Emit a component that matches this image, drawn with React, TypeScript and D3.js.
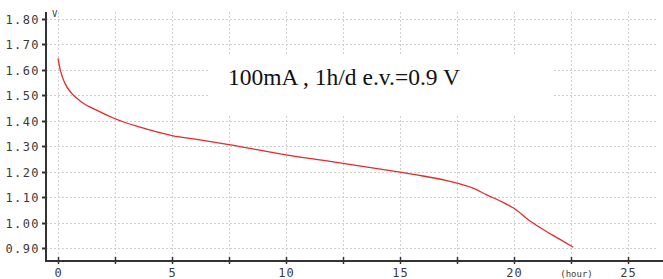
import React, { useEffect, useRef } from 'react';
import * as d3 from 'd3';

// discharge curve
const hours = [0, 0.1, 0.3, 0.6, 1.0, 1.8, 2.5, 3.6, 5.0, 6.2, 7.5, 10, 12.5, 15, 16, 17, 17.5, 18.2, 18.8, 19.5, 20, 20.7, 21.4, 22.0, 22.6];
const volts = [1.645, 1.6, 1.548, 1.508, 1.476, 1.437, 1.408, 1.375, 1.342, 1.325, 1.306, 1.266, 1.233, 1.198, 1.183, 1.166, 1.155, 1.135, 1.109, 1.08, 1.056, 1.006, 0.966, 0.935, 0.903];

const yTicks = [0.9, 1.0, 1.1, 1.2, 1.3, 1.4, 1.5, 1.6, 1.7, 1.8];
const xTicks = [0, 2.5, 5, 7.5, 10, 12.5, 15, 17.5, 20, 22.5, 25];
const xLabels = ['0', '', '5', '', '10', '', '15', '', '20', '(hour)', '25'];
const title = '100mA , 1h/d e.v.=0.9 V';

const W = 663;
const H = 279;

const DischargeChart = () => {
  const ref = useRef(null);

  useEffect(() => {
    draw();
  }, []);

  const draw = () => {
    const svg = d3.select(ref.current);
    svg.selectAll('*').remove();

    const x = d3.scaleLinear().domain([0, 25]).range([58, 628]);
    const y = d3.scaleLinear().domain([0.9, 1.8]).range([248, 19]);
    const axisX = 46;
    const axisY = 261;
    const top = 12;
    const right = 656;

    svg.append('rect').attr('width', W).attr('height', H).attr('fill', '#fff');

    // grid
    const grid = svg.append('g').attr('stroke', '#cfcfcf').attr('stroke-width', 1).attr('stroke-dasharray', '2,2');
    yTicks.forEach(t => {
      grid.append('line')
        .attr('x1', axisX).attr('x2', right)
        .attr('y1', Math.round(y(t)) + 0.5).attr('y2', Math.round(y(t)) + 0.5);
    });
    xTicks.forEach(t => {
      grid.append('line')
        .attr('x1', Math.round(x(t)) + 0.5).attr('x2', Math.round(x(t)) + 0.5)
        .attr('y1', top).attr('y2', axisY);
    });

    // white box behind the annotation
    svg.append('rect')
      .attr('x', 210).attr('y', 55).attr('width', 343).attr('height', 60)
      .attr('fill', '#fff');

    svg.append('text')
      .attr('x', 228).attr('y', 85)
      .attr('font-family', '"Liberation Serif", "Times New Roman", serif')
      .attr('font-size', 23.5)
      .attr('fill', '#111')
      .text(title);

    // curve
    const line = d3.line<number>()
      .x((d, i) => x(hours[i]))
      .y(d => y(d))
      .curve(d3.curveMonotoneX);
    svg.append('path')
      .datum(volts)
      .attr('d', line)
      .attr('fill', 'none')
      .attr('stroke', '#e52a2a')
      .attr('stroke-width', 1.3);

    // axes
    svg.append('line')
      .attr('x1', axisX).attr('x2', axisX).attr('y1', top).attr('y2', axisY + 1)
      .attr('stroke', '#333').attr('stroke-width', 2);
    svg.append('line')
      .attr('x1', axisX - 1).attr('x2', W).attr('y1', axisY).attr('y2', axisY)
      .attr('stroke', '#333').attr('stroke-width', 2);

    const labelFont = '"DejaVu Sans Mono", "Liberation Mono", monospace';

    yTicks.forEach(t => {
      const py = Math.round(y(t)) + 0.5;
      svg.append('line')
        .attr('x1', axisX - 4).attr('x2', axisX).attr('y1', py).attr('y2', py)
        .attr('stroke', '#333').attr('stroke-width', 2);
      svg.append('text')
        .attr('x', 40).attr('y', py + 4)
        .attr('text-anchor', 'end')
        .attr('font-family', labelFont)
        .attr('font-size', 12)
        .attr('letter-spacing', 1.4)
        .attr('fill', '#3a3a3a')
        .text(d3.format('.2f')(t));
    });

    xTicks.forEach((t, i) => {
      const px = Math.round(x(t)) + 0.5;
      svg.append('line')
        .attr('x1', px).attr('x2', px).attr('y1', axisY - 4).attr('y2', axisY + 3)
        .attr('stroke', '#333').attr('stroke-width', 1.5);
      if (xLabels[i]) {
        svg.append('text')
          .attr('x', px + (xLabels[i] === '(hour)' ? 5 : 0)).attr('y', 277)
          .attr('text-anchor', 'middle')
          .attr('font-family', labelFont)
          .attr('font-size', xLabels[i] === '(hour)' ? 9 : 12)
          .attr('letter-spacing', xLabels[i] === '(hour)' ? 0 : 1)
          .attr('fill', '#3a3a3a')
          .text(xLabels[i]);
      }
    });

    svg.append('text')
      .attr('x', 52).attr('y', 17)
      .attr('font-family', labelFont)
      .attr('font-size', 9)
      .attr('fill', '#444')
      .text('V');
  };

  return <svg ref={ref} width={W} height={H} style={{ position: 'absolute', left: 0, top: 0 }}></svg>;
};

export default function App() {
  return <DischargeChart />;
}
